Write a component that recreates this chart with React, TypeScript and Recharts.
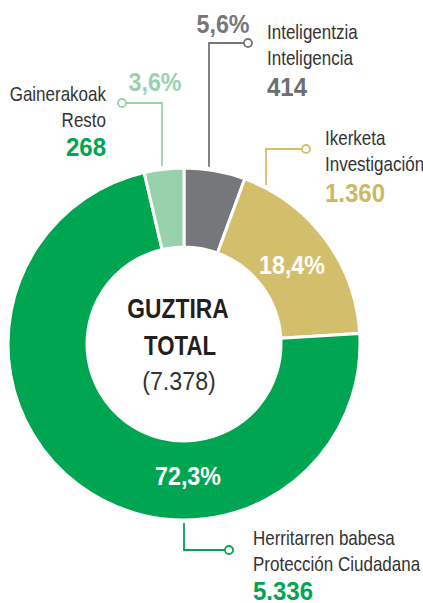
import { PieChart, Pie, Cell } from "recharts";

const names = ["Inteligentzia", "Ikerketa", "Herritarren babesa", "Gainerakoak"];
const namesEs = ["Inteligencia", "Investigación", "Protección Ciudadana", "Resto"];
const values = [414, 1360, 5336, 268];
const colors = ["#76777b", "#d3bf6b", "#00a551", "#98d2ad"];
const valueColors = ["#6d6e72", "#cdb865", "#00a551", "#00a551"];

const total = values.reduce((a, b) => a + b, 0);
const data = names.map((name, i) => ({ name, es: namesEs[i], value: values[i] }));

const FONT = "'Liberation Sans', Arial, sans-serif";
const TEXT = "#333335";

const fmtThousands = (n: number) => String(n).replace(/\B(?=(\d{3})+(?!\d))/g, ".");
const fmtPct = (v: number) => ((v / total) * 100).toFixed(1).replace(".", ",") + "%";

// condensed text: the reference uses a narrow face, so squeeze a normal one
function T({
  x, y, sx, anchor = "middle", bold = false, size, fill, children,
}: {
  x: number; y: number; sx: number; anchor?: "start" | "middle" | "end";
  bold?: boolean; size: number; fill: string; children: any;
}) {
  return (
    <text
      transform={`translate(${x},${y}) scale(${sx},1)`}
      textAnchor={anchor}
      fill={fill}
      fontFamily={FONT}
      fontWeight={bold ? "bold" : "normal"}
      fontSize={size}
    >
      {children}
    </text>
  );
}

// label placement per slice, offsets from pie centre
type Lay = {
  lineX: number;
  elbowY: number;
  endX: number;
  down?: boolean;
  pct: [number, number, boolean];
  text: [number, number, "start" | "end"];
  valueDy: number;
};

const layout: Lay[] = [
  { lineX: 25, elbowY: -301, endX: 64, pct: [39, -311, false], text: [83, -305, "start"], valueDy: 57 },
  { lineX: 82, elbowY: -195, endX: 122, pct: [108, -70, true], text: [141, -199, "start"], valueDy: 57 },
  { lineX: 0, elbowY: 206, endX: 45, down: true, pct: [4, 141, true], text: [69, 201, "start"], valueDy: 55 },
  { lineX: -22, elbowY: -241, endX: -62, pct: [-29, -253, false], text: [-78, -243, "end"], valueDy: 55 },
];

const renderLabel = (props: any) => {
  const { cx, cy, outerRadius, index } = props;
  const l = layout[index];
  const d = data[index];
  const r = outerRadius + 3;
  const ringY = Math.sqrt(r * r - l.lineX * l.lineX) * (l.down ? 1 : -1);
  const x0 = cx + l.lineX;
  const y0 = cy + ringY;
  const y1 = cy + l.elbowY;
  const x1 = cx + l.endX;
  const dir = l.endX > l.lineX ? -1 : 1;
  const tx = cx + l.text[0];
  const ty = cy + l.text[1];
  return (
    <g key={`lbl-${index}`}>
      <polyline
        points={`${x0},${y0} ${x0},${y1} ${x1 + dir * 4},${y1}`}
        fill="none"
        stroke={colors[index]}
        strokeWidth={1.8}
      />
      <circle cx={x1} cy={y1} r={4} fill="#fff" stroke={colors[index]} strokeWidth={1.8} />
      <T x={cx + l.pct[0]} y={cy + l.pct[1]} sx={0.93} bold size={25} fill={l.pct[2] ? "#fff" : colors[index]}>
        {fmtPct(d.value)}
      </T>
      <T x={tx} y={ty} sx={0.85} anchor={l.text[2]} size={20} fill={TEXT}>
        {d.name}
      </T>
      <T x={tx} y={ty + 26} sx={0.85} anchor={l.text[2]} size={20} fill={TEXT}>
        {d.es}
      </T>
      <T x={tx} y={ty + l.valueDy} sx={0.96} anchor={l.text[2]} bold size={25} fill={valueColors[index]}>
        {fmtThousands(d.value)}
      </T>
    </g>
  );
};

export default function App() {
  const cx = 184;
  const cy = 344;
  return (
    <div style={{ width: 423, height: 603, background: "#fff" }}>
      <style>{"body{margin:0}"}</style>
      <PieChart width={423} height={603} margin={{ top: 0, right: 0, bottom: 0, left: 0 }}>
        <Pie
          data={data}
          dataKey="value"
          nameKey="name"
          cx={cx}
          cy={cy}
          innerRadius={97}
          outerRadius={176}
          startAngle={90}
          endAngle={-270}
          stroke="#fff"
          strokeWidth={3}
          label={renderLabel}
          labelLine={false}
          isAnimationActive={false}
        >
          {data.map((d, i) => (
            <Cell key={d.name} fill={colors[i]} />
          ))}
        </Pie>
        <T x={178} y={318} sx={0.8} bold size={28.5} fill="#231f20">GUZTIRA</T>
        <T x={180} y={355} sx={0.78} bold size={28.5} fill="#231f20">TOTAL</T>
        <T x={179} y={390} sx={0.93} size={25} fill={TEXT}>({fmtThousands(total)})</T>
      </PieChart>
    </div>
  );
}
